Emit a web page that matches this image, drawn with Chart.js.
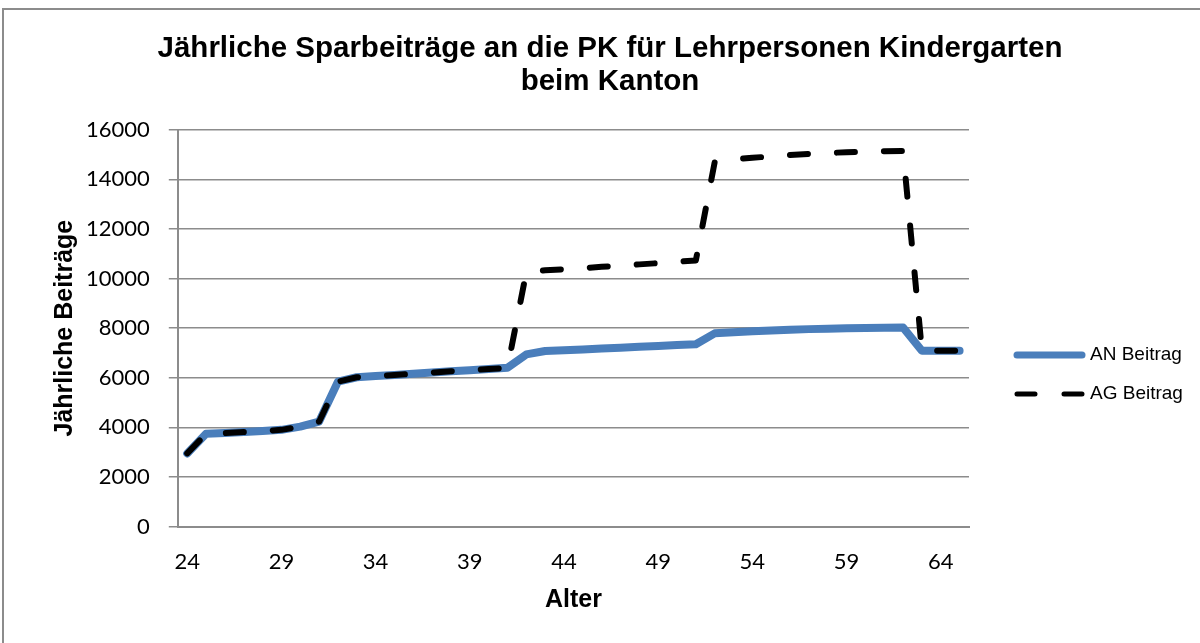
<!DOCTYPE html>
<html>
<head>
<meta charset="utf-8">
<script src="https://cdn.jsdelivr.net/npm/chart.js@4/dist/chart.umd.min.js"></script>
<style>
  body { margin: 0; background: #fff; overflow: hidden; }
  #wrap { position: relative; width: 1200px; height: 643px; overflow: hidden; }
  #frame { position: absolute; left: 2px; top: 8px; width: 1300px; height: 700px; border: 2px solid #8c8c8c; }
  #pkChart { position: absolute; left: 0; top: 0; }
</style>
</head>
<body>
<div id="wrap">
  <div id="frame"></div>
  <canvas id="pkChart" width="1200" height="643"></canvas>
</div>
<script>
// Alter (Kategorien)
const ages = [24, 25, 26, 27, 28, 29, 30, 31, 32, 33, 34, 35, 36, 37, 38, 39, 40, 41, 42, 43, 44,
              45, 46, 47, 48, 49, 50, 51, 52, 53, 54, 55, 56, 57, 58, 59, 60, 61, 62, 63, 64, 65];

// Arbeitnehmer-Beitrag
const anBeitrag = [2950, 3740, 3770, 3810, 3850, 3900, 4030, 4230, 5840, 6020, 6070, 6110, 6160, 6210,
                   6260, 6300, 6350, 6400, 6940, 7080, 7110, 7140, 7180, 7210, 7250, 7280, 7320, 7350,
                   7790, 7830, 7870, 7900, 7930, 7960, 7980, 8000, 8010, 8020, 8030, 7090, 7090, 7090];

// Arbeitgeber-Beitrag
const agBeitrag = [2950, 3740, 3770, 3810, 3850, 3900, 4030, 4230, 5840, 6020, 6070, 6110, 6160, 6210,
                   6260, 6300, 6350, 6400, 10260, 10330, 10370, 10420, 10470, 10520, 10570, 10620, 10680, 10730,
                   14690, 14800, 14870, 14920, 14980, 15020, 15060, 15090, 15110, 15130, 15140, 7090, 7090, 7090];

// beschriftete Alter auf der x-Achse
const xTickLabels = [24, 29, 34, 39, 44, 49, 54, 59, 64];
const yMin = 0, yMax = 16000, yStep = 2000;

const gridGrey = '#8c8c8c';

// Legende rechts, wie in Excel gezeichnet
const sideLegend = {
    id: 'sideLegend',
    afterDraw(chart) {
        const ctx = chart.ctx;
        const x0 = 1014, x1 = 1085;
        const rows = [355, 394];
        ctx.save();
        chart.data.datasets.forEach((ds, i) => {
            const y = rows[i];
            ctx.beginPath();
            ctx.strokeStyle = ds.borderColor;
            ctx.lineWidth = ds.borderWidth - 1;
            ctx.lineCap = 'round';
            ctx.setLineDash(ds.borderDash || []);
            ctx.moveTo(x0 + 3, y);
            ctx.lineTo(x1 - 3, y);
            ctx.stroke();
            ctx.setLineDash([]);
            ctx.fillStyle = '#000';
            ctx.font = '19px "Liberation Sans", Arial, sans-serif';
            ctx.textBaseline = 'middle';
            ctx.textAlign = 'left';
            ctx.fillText(ds.label, 1090, y);
        });
        ctx.restore();
    }
};

new Chart(document.getElementById('pkChart'), {
    type: 'line',
    data: {
        labels: ages,
        datasets: [{
            label: 'AN Beitrag',
            data: anBeitrag,
            order: 2,
            borderColor: '#4a7ebb',
            borderWidth: 8,
            borderJoinStyle: 'round',
            borderCapStyle: 'round',
            pointRadius: 0,
            tension: 0,
            fill: false
        }, {
            label: 'AG Beitrag',
            data: agBeitrag,
            order: 1,
            borderColor: '#000000',
            borderWidth: 6,
            borderDash: [18, 29],
            borderJoinStyle: 'round',
            borderCapStyle: 'round',
            pointRadius: 0,
            tension: 0,
            fill: false
        }]
    },
    options: {
        responsive: false,
        animation: false,
        layout: { padding: { left: 20, right: 0, top: 0, bottom: 0 } },
        plugins: {
            legend: { display: false },
            tooltip: { enabled: false },
            title: {
                display: true,
                text: ['Jährliche Sparbeiträge an die PK für Lehrpersonen Kindergarten', 'beim Kanton'],
                color: '#000',
                font: { family: '"Liberation Sans", Arial, sans-serif', size: 29.5, weight: 'bold', lineHeight: 1.13 },
                padding: { top: 32, bottom: 31 }
            }
        },
        scales: {
            x: {
                offset: true,
                grid: { display: false, drawTicks: false },
                border: { display: true, color: gridGrey, width: 2 },
                ticks: {
                    autoSkip: false,
                    maxRotation: 0,
                    padding: 22,
                    color: '#000',
                    font: { family: 'Lato, sans-serif', size: 22 },
                    callback: function (value, index) {
                        const age = ages[index];
                        return xTickLabels.includes(age) ? String(age) : '';
                    }
                },
                title: {
                    display: true,
                    text: 'Alter',
                    color: '#000',
                    font: { family: '"Liberation Sans", Arial, sans-serif', size: 25, weight: 'bold', lineHeight: 1.2 },
                    padding: { top: -12, bottom: 28 }
                }
            },
            y: {
                min: yMin,
                max: yMax,
                grid: { color: gridGrey, lineWidth: 1.5, tickLength: 9, drawTicks: true },
                border: { display: true, color: gridGrey, width: 2 },
                ticks: {
                    stepSize: yStep,
                    padding: 19,
                    color: '#000',
                    font: { family: 'Lato, sans-serif', size: 22 },
                    callback: (value) => String(value)
                },
                title: {
                    display: true,
                    text: 'Jährliche Beiträge',
                    color: '#000',
                    font: { family: '"Liberation Sans", Arial, sans-serif', size: 25, weight: 'bold', lineHeight: 1.2 },
                    padding: { top: 30, bottom: -13 }
                }
            },
            // leere Achse rechts: hält Platz für die Legende frei
            legendSpace: {
                type: 'linear',
                position: 'right',
                display: true,
                grid: { display: false, drawTicks: false },
                border: { display: false },
                ticks: { display: false },
                afterFit(scale) { scale.width = 231; }
            }
        }
    },
    plugins: [sideLegend]
});
</script>
</body>
</html>
